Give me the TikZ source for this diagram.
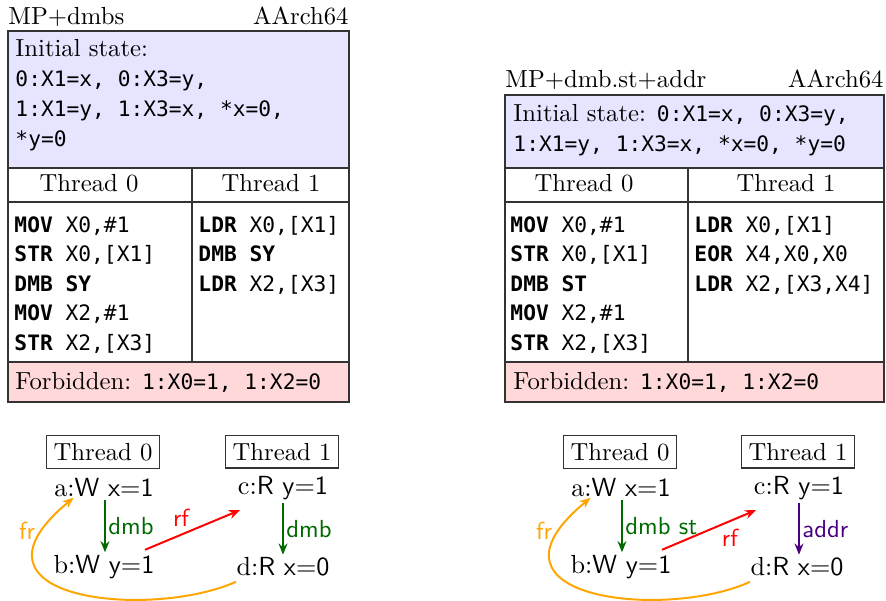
\documentclass[tikz,border=0pt]{standalone}
\usepackage{fontspec}
\setmonofont{DejaVu Sans Mono}[Scale=0.86]
\usetikzlibrary{arrows.meta,calc}
\definecolor{stateblue}{RGB}{229,229,255}
\definecolor{forbpink}{RGB}{255,217,217}
\definecolor{dmbgreen}{RGB}{0,105,0}
\definecolor{frorange}{RGB}{255,165,0}
\definecolor{addrpurple}{RGB}{75,0,130}
\tikzset{
  txt/.style={inner sep=0pt, anchor=base west},
  ctxt/.style={inner sep=0pt, anchor=base},
  rtxt/.style={inner sep=0pt, anchor=base east},
  tbl/.style={draw=black!80, line width=0.5pt},
  thbox/.style={draw=black!80, line width=0.5pt, inner sep=3pt},
  ev/.style={inner sep=1pt, font=\fontsize{10.6}{12}\selectfont},
  rel/.style={line width=0.8pt, -{Stealth[length=4.5pt,width=3.6pt]}},
  lbl/.style={font=\sffamily, inner sep=1pt}
}
\newcommand{\ins}[2]{\texttt{\textbf{#1} #2}}
\begin{document}
\begin{tikzpicture}[x=0.405pt,y=-0.405pt]
\useasboundingbox (0,0) rectangle (886,601);
% ---------------- Left table ----------------
\node[txt] (lt) at (8,25) {MP+dmbs};
\node[rtxt] (la) at (349,25) {AArch64};
\filldraw[tbl,fill=stateblue] (8,31) rectangle (349,168);
\node[txt] (li1) at (15,57) {Initial state:};
\node[txt] (li2) at (15,87) {\texttt{0:X1=x, 0:X3=y,}};
\node[txt] (li3) at (15,117) {\texttt{1:X1=y, 1:X3=x, *x=0,}};
\node[txt] (li4) at (15,147) {\texttt{*y=0}};
\draw[tbl] (8,168) rectangle (349,202);
\draw[tbl] (192,168) -- (192,362);
\node[ctxt] (lh0) at (89,192) {Thread 0};
\node[ctxt] (lh1) at (271,192) {Thread 1};
\draw[tbl] (8,202) rectangle (349,362);
\node[txt] (lc01) at (14,233) {\ins{MOV}{X0,\#1}};
\node[txt] (lc02) at (14,262) {\ins{STR}{X0,[X1]}};
\node[txt] (lc03) at (14,292) {\ins{DMB}{\textbf{SY}}};
\node[txt] (lc04) at (14,321) {\ins{MOV}{X2,\#1}};
\node[txt] (lc05) at (14,351) {\ins{STR}{X2,[X3]}};
\node[txt] (lc11) at (198,233) {\ins{LDR}{X0,[X1]}};
\node[txt] (lc12) at (198,262) {\ins{DMB}{\textbf{SY}}};
\node[txt] (lc13) at (198,292) {\ins{LDR}{X2,[X3]}};
\filldraw[tbl,fill=forbpink] (8,362) rectangle (349,402);
\node[txt] (lf) at (15,390) {Forbidden: \texttt{1:X0=1, 1:X2=0}};
% ---------------- Right table ----------------
\node[txt] (rt) at (505,88) {MP+dmb.st+addr};
\node[rtxt] (ra) at (884,88) {AArch64};
\filldraw[tbl,fill=stateblue] (505,95) rectangle (884,168);
\node[txt] (ri1) at (513,122) {Initial state: \texttt{0:X1=x, 0:X3=y,}};
\node[txt] (ri2) at (513,152) {\texttt{1:X1=y, 1:X3=x, *x=0, *y=0}};
\draw[tbl] (505,168) rectangle (884,202);
\draw[tbl] (688,168) -- (688,362);
\node[ctxt] (rh0) at (584,192) {Thread 0};
\node[ctxt] (rh1) at (786,192) {Thread 1};
\draw[tbl] (505,202) rectangle (884,362);
\node[txt] (rc01) at (510,233) {\ins{MOV}{X0,\#1}};
\node[txt] (rc02) at (510,262) {\ins{STR}{X0,[X1]}};
\node[txt] (rc03) at (510,292) {\ins{DMB}{\textbf{ST}}};
\node[txt] (rc04) at (510,321) {\ins{MOV}{X2,\#1}};
\node[txt] (rc05) at (510,351) {\ins{STR}{X2,[X3]}};
\node[txt] (rc11) at (694,233) {\ins{LDR}{X0,[X1]}};
\node[txt] (rc12) at (694,262) {\ins{EOR}{X4,X0,X0}};
\node[txt] (rc13) at (694,292) {\ins{LDR}{X2,[X3,X4]}};
\filldraw[tbl,fill=forbpink] (505,362) rectangle (884,402);
\node[txt] (rf) at (513,390) {Forbidden: \texttt{1:X0=1, 1:X2=0}};
% ---------------- Left graph ----------------
\node[thbox] (lt0) at (103,452) {Thread 0};
\node[thbox] (lt1) at (282,452) {Thread 1};
\node[ev] (la1) at (104,488) {a:\textsf{W x}=\textsf{1}};
\node[ev] (lb1) at (104,567) {b:\textsf{W y}=\textsf{1}};
\node[ev] (lc1) at (283,488) {c:\textsf{R y}=\textsf{1}};
\node[ev] (ld1) at (283,567) {d:\textsf{R x}=\textsf{0}};
\draw[rel,dmbgreen] ([xshift=0.4pt]la1.south) -- node[lbl,right] {dmb} ([xshift=0.4pt]lb1.north);
\draw[rel,dmbgreen] (lc1.south) -- node[lbl,right] {dmb} (lc1.south |- ld1.north);
\draw[rel,red] ([xshift=-5pt,yshift=1pt]lb1.north east) -- node[lbl,above left,pos=0.5] {rf} ([xshift=2pt,yshift=-3pt]lc1.south west);
\draw[rel,frorange] ([xshift=1pt,yshift=-1pt]ld1.south west) .. controls (150,620) and (-50,600) .. node[lbl,left,pos=0.88,xshift=-1.5pt] {fr} ([xshift=9pt,yshift=1pt]la1.south west);
% ---------------- Right graph ----------------
\node[thbox] (rt0) at (620,452) {Thread 0};
\node[thbox] (rt1) at (798,452) {Thread 1};
\node[ev] (ra1) at (621,488) {a:\textsf{W x}=\textsf{1}};
\node[ev] (rb1) at (621,567) {b:\textsf{W y}=\textsf{1}};
\node[ev] (rc1) at (799,488) {c:\textsf{R y}=\textsf{1}};
\node[ev] (rd1) at (797,567) {d:\textsf{R x}=\textsf{0}};
\draw[rel,dmbgreen] ([xshift=0.4pt]ra1.south) -- node[lbl,right] {dmb st} ([xshift=0.4pt]rb1.north);
\draw[rel,addrpurple] (rc1.south) -- node[lbl,right] {addr} (rc1.south |- rd1.north);
\draw[rel,red] ([xshift=-5pt,yshift=1pt]rb1.north east) -- node[lbl,below right,pos=0.6] {rf} ([xshift=2pt,yshift=-3pt]rc1.south west);
\draw[rel,frorange] ([xshift=1pt,yshift=-1pt]rd1.south west) .. controls (667,620) and (467,600) .. node[lbl,left,pos=0.88,xshift=-1.5pt] {fr} ([xshift=9pt,yshift=1pt]ra1.south west);
\end{tikzpicture}
\end{document}
